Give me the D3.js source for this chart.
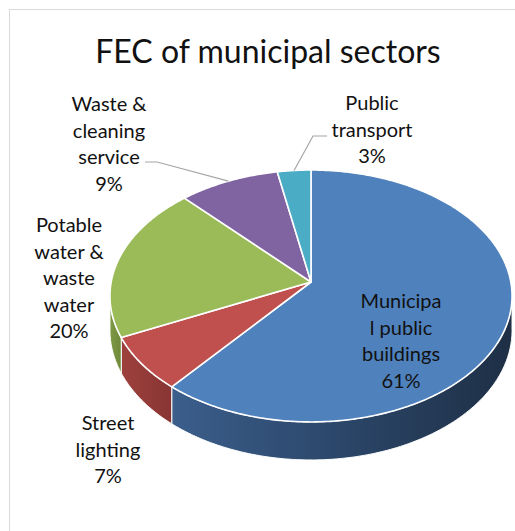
<!DOCTYPE html>
<html>
<head>
<meta charset="utf-8">
<script src="https://cdn.jsdelivr.net/npm/d3@7"></script>
<style>
  html, body { margin: 0; padding: 0; background: #fff; }
  svg { display: block; }
  text { font-family: "Lato", "Noto Sans", sans-serif; fill: #111; }
</style>
</head>
<body>
<svg id="chart" width="515" height="531"></svg>
<script>
// ---- data ----
const categories = [
  "Municipal public buildings",
  "Street lighting",
  "Potable water & waste water",
  "Waste & cleaning service",
  "Public transport"
];
const values = [61, 7, 20, 9, 3];
const labelLines = [
  ["Municipa", "l public", "buildings"],
  ["Street", "lighting"],
  ["Potable", "water &", "waste", "water"],
  ["Waste &", "cleaning", "service"],
  ["Public", "transport"]
];
const chartTitle = "FEC of municipal sectors";

// ---- styling ----
const topColors  = ["#4f81bd", "#c0504d", "#9bbb59", "#8064a2", "#4bacc6"];
const wallStops  = [
  ["#3b5e8b", "#2b4669", "#1e2f45"],
  ["#9e413e", "#933b39", "#873533"],
  ["#7d9946", "#76913f", "#6e8839"],
  ["#5f4a7a", "#574370", "#4f3d66"],
  ["#38819a", "#33788f", "#2e6f84"]
];

// label anchors (centre x, first baseline y) and leader-line elbows
const labelLayout = [
  { x: 401, y: 308 },
  { x: 108, y: 430 },
  { x: 69,  y: 232 },
  { x: 109, y: 111, leaderFrom: [145, 162], elbow: [157, 162] },
  { x: 372, y: 110, leaderFrom: [327, 136], elbow: [313, 136] }
];

const svg = d3.select("#chart");

// chart frame
svg.append("rect")
  .attr("x", 9.5).attr("y", 9.5)
  .attr("width", 640).attr("height", 640)
  .attr("fill", "#fff").attr("stroke", "#d9d9d9").attr("stroke-width", 1);

// title
svg.append("text")
  .attr("x", 268).attr("y", 63)
  .attr("text-anchor", "middle")
  .style("font-size", "32px")
  .text(chartTitle);

// ---- 3D pie projection ----
// pie lies in a tilted plane seen in perspective; theta runs clockwise from 12 o'clock
const cx = 311, cy = 282;      // projected pie centre
const sx = 199.8, sy = 124.4;  // horizontal / vertical radii
const persp = 0.111;           // perspective strength (far side smaller)
const depth = 33.8;            // extrusion thickness
function proj(theta, r, h) {
  const u = r * Math.sin(theta), w = r * Math.cos(theta);
  const k = 1 / (1 + persp * w);
  return [cx + sx * u * k, cy - sy * w * k + h * depth * k];
}
function arcPoints(a0, a1, h) {
  const n = Math.max(2, Math.ceil((a1 - a0) / 0.01));
  return d3.range(n + 1).map(i => proj(a0 + (a1 - a0) * i / n, 1, h));
}

const pie = d3.pie().sort(null).startAngle(0).endAngle(2 * Math.PI);
const arcs = pie(values);
const line = d3.line();

const defs = svg.append("defs");
wallStops.forEach((stops, i) => {
  const g = defs.append("linearGradient").attr("id", "wall" + i)
    .attr("x1", 0).attr("y1", 0).attr("x2", 1).attr("y2", 0);
  stops.forEach((c, j) => g.append("stop")
    .attr("offset", j / (stops.length - 1)).attr("stop-color", c));
});

// visible front wall lies where cos(theta) < -persp
const frontA0 = Math.acos(-persp);
const frontA1 = 2 * Math.PI - frontA0;

const wallG = svg.append("g");
arcs.forEach((a, i) => {
  const a0 = Math.max(a.startAngle, frontA0);
  const a1 = Math.min(a.endAngle, frontA1);
  if (a1 <= a0) return;
  const topEdge = arcPoints(a0, a1, 0);
  const botEdge = arcPoints(a0, a1, 1).reverse();
  wallG.append("path")
    .attr("d", line(topEdge.concat(botEdge)) + "Z")
    .attr("fill", `url(#wall${i})`)
    .attr("stroke", "#fff").attr("stroke-width", 1)
    .attr("stroke-linejoin", "round");
});

const topG = svg.append("g");
arcs.forEach((a, i) => {
  const pts = [proj(0, 0, 0)].concat(arcPoints(a.startAngle, a.endAngle, 0));
  topG.append("path")
    .attr("d", line(pts) + "Z")
    .attr("fill", topColors[i])
    .attr("stroke", "#fff").attr("stroke-width", 1.6)
    .attr("stroke-linejoin", "round");
});

// ---- labels ----
const total = d3.sum(values);
const lineH = 26.6;
const labelG = svg.append("g");
arcs.forEach((a, i) => {
  const L = labelLayout[i];
  const lines = labelLines[i].concat([Math.round(values[i] / total * 100) + "%"]);
  const t = labelG.append("text")
    .attr("text-anchor", "middle")
    .style("font-size", "20px");
  lines.forEach((s, j) => t.append("tspan")
    .attr("x", L.x).attr("y", L.y + j * lineH).text(s));
  if (L.leaderFrom) {
    const mid = (a.startAngle + a.endAngle) / 2;
    const end = proj(mid, 1, 0);
    labelG.append("path")
      .attr("d", line([L.leaderFrom, L.elbow, end]))
      .attr("fill", "none").attr("stroke", "#a6a6a6").attr("stroke-width", 1.2);
  }
});
</script>
</body>
</html>
